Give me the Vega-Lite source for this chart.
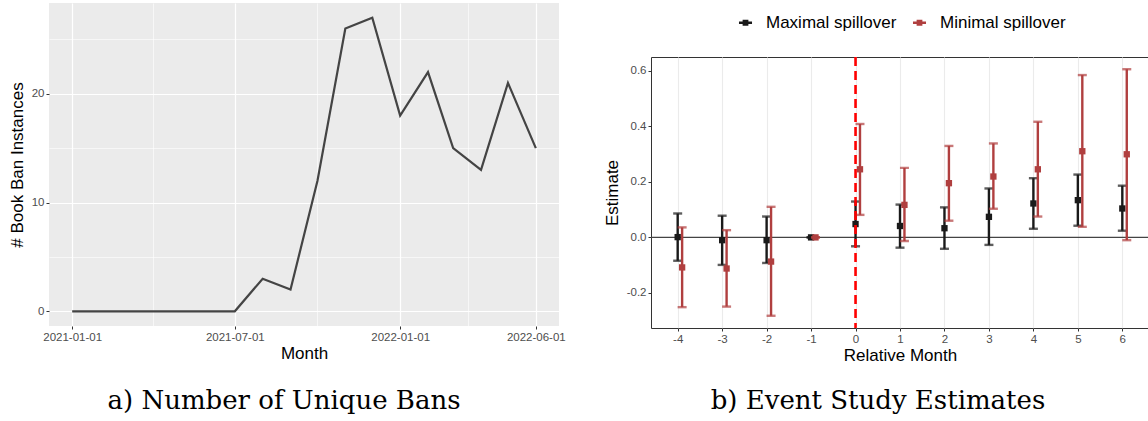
{
  "$schema": "https://vega.github.io/schema/vega-lite/v6.json",
  "background": "white",
  "padding": {"left": 8, "top": 3, "right": 0, "bottom": 0},
  "spacing": 36,
  "resolve": {"scale": {"color": "independent"}, "legend": {"color": "independent"}},
  "config": {
    "font": "Liberation Sans",
    "locale": {"number": {"decimal": ".", "thousands": ",", "grouping": [3], "currency": ["$", ""], "minus": "-"}},
    "axis": {
      "labelFont": "Liberation Sans", "labelFontSize": 11.5, "labelColor": "#4D4D4D",
      "titleFont": "Liberation Sans", "titleFontSize": 17, "titleFontWeight": "normal", "titleColor": "black",
      "tickColor": "#333333", "tickSize": 3, "tickWidth": 1, "labelPadding": 2,
      "domain": false, "labelOverlap": false, "labelFlush": false
    }
  },
  "hconcat": [
    {
      "width": 510, "height": 323,
      "view": {"fill": "#EBEBEB", "stroke": null},
      "title": {"text": "a) Number of Unique Bans", "orient": "bottom", "font": "DejaVu Serif", "fontSize": 26, "fontWeight": "normal", "color": "black", "offset": 26, "dx": -20},
      "data": {"values": [
        {"month": "2021-01-01", "bans": 0},
        {"month": "2021-02-01", "bans": 0},
        {"month": "2021-03-01", "bans": 0},
        {"month": "2021-04-01", "bans": 0},
        {"month": "2021-05-01", "bans": 0},
        {"month": "2021-06-01", "bans": 0},
        {"month": "2021-07-01", "bans": 0},
        {"month": "2021-08-01", "bans": 3},
        {"month": "2021-09-01", "bans": 2},
        {"month": "2021-10-01", "bans": 12},
        {"month": "2021-11-01", "bans": 26},
        {"month": "2021-12-01", "bans": 27},
        {"month": "2022-01-01", "bans": 18},
        {"month": "2022-02-01", "bans": 22},
        {"month": "2022-03-01", "bans": 15},
        {"month": "2022-04-01", "bans": 13},
        {"month": "2022-05-01", "bans": 21},
        {"month": "2022-06-01", "bans": 15}
      ]},
      "mark": {"type": "line", "color": "#444444", "strokeWidth": 2.2},
      "encoding": {
        "x": {
          "field": "month", "type": "temporal",
          "scale": {"type": "utc", "domain": [
            {"year": 2020, "month": 12, "date": 6, "hours": 5, "utc": true},
            {"year": 2022, "month": 6, "date": 26, "hours": 19, "utc": true}
          ]},
          "axis": {
            "title": "Month", "titlePadding": 3,
            "values": [
              {"year": 2021, "month": 1, "date": 1, "utc": true},
              {"year": 2021, "month": 4, "date": 1, "hours": 12, "utc": true},
              {"year": 2021, "month": 7, "date": 1, "utc": true},
              {"year": 2021, "month": 10, "date": 1, "utc": true},
              {"year": 2022, "month": 1, "date": 1, "utc": true},
              {"year": 2022, "month": 3, "date": 17, "hours": 12, "utc": true},
              {"year": 2022, "month": 6, "date": 1, "utc": true}
            ],
            "labelExpr": "indexof([2,3,9], utcmonth(datum.value)) >= 0 ? '' : utcFormat(datum.value, '%Y-%m-%d')",
            "gridColor": "white",
            "gridWidth": {"condition": {"test": "indexof([2,3,9], utcmonth(datum.value)) >= 0", "value": 0.6}, "value": 1.2},
            "tickOpacity": {"condition": {"test": "indexof([2,3,9], utcmonth(datum.value)) >= 0", "value": 0}, "value": 1}
          }
        },
        "y": {
          "field": "bans", "type": "quantitative",
          "scale": {"domain": [-1.35, 28.35], "nice": false, "zero": false},
          "axis": {
            "title": "# Book Ban Instances", "titlePadding": 5,
            "values": [0, 5, 10, 15, 20, 25],
            "labelExpr": "datum.value % 10 != 0 ? '' : datum.label",
            "gridColor": "white",
            "gridWidth": {"condition": {"test": "datum.value % 10 != 0", "value": 0.6}, "value": 1.2},
            "tickOpacity": {"condition": {"test": "datum.value % 10 != 0", "value": 0}, "value": 1}
          }
        }
      }
    },
    {
      "spacing": 12,
      "resolve": {"scale": {"color": "independent"}, "legend": {"color": "independent"}},
      "vconcat": [
        {
          "width": 498, "height": 40,
          "view": {"stroke": null, "fill": null},
          "data": {"values": [{"series": "Maximal spillover"}, {"series": "Minimal spillover"}]},
          "mark": {"type": "point", "shape": "square", "size": 0, "filled": false, "strokeWidth": 2.5},
          "encoding": {
            "color": {"field": "series", "type": "nominal",
              "scale": {"domain": ["Maximal spillover", "Minimal spillover"], "range": ["#1A1A1A", "#B03F3F"]},
              "legend": {"orient": "none", "legendX": 86, "legendY": 11, "title": null, "direction": "horizontal",
                "labelFontSize": 17, "labelColor": "black", "labelFont": "Liberation Sans",
                "symbolType": "M-1,0H1M-0.25,-0.25H0.25V0.25H-0.25Z", "symbolSize": 170, "symbolStrokeWidth": 2.5, "symbolOpacity": 1,
                "labelOffset": 12, "columnPadding": 10}
            }
          }
        },
        {
          "width": 498, "height": 271,
          "view": {"fill": "white", "stroke": "#333333", "strokeWidth": 1},
          "title": {"text": "b) Event Study Estimates", "orient": "bottom", "font": "DejaVu Serif", "fontSize": 26, "fontWeight": "normal", "color": "black", "offset": 24, "dx": -22},
          "resolve": {"axis": {"x": "independent", "y": "independent"}},
          "data": {"values": [
            {"month": -4, "series": "Maximal spillover", "estimate": 0.001, "lower": -0.084, "upper": 0.086},
            {"month": -3, "series": "Maximal spillover", "estimate": -0.010, "lower": -0.099, "upper": 0.078},
            {"month": -2, "series": "Maximal spillover", "estimate": -0.010, "lower": -0.092, "upper": 0.075},
            {"month": -1, "series": "Maximal spillover", "estimate": 0, "lower": 0, "upper": 0},
            {"month": 0, "series": "Maximal spillover", "estimate": 0.048, "lower": -0.032, "upper": 0.129},
            {"month": 1, "series": "Maximal spillover", "estimate": 0.041, "lower": -0.037, "upper": 0.118},
            {"month": 2, "series": "Maximal spillover", "estimate": 0.033, "lower": -0.041, "upper": 0.108},
            {"month": 3, "series": "Maximal spillover", "estimate": 0.074, "lower": -0.027, "upper": 0.176},
            {"month": 4, "series": "Maximal spillover", "estimate": 0.122, "lower": 0.031, "upper": 0.213},
            {"month": 5, "series": "Maximal spillover", "estimate": 0.134, "lower": 0.042, "upper": 0.226},
            {"month": 6, "series": "Maximal spillover", "estimate": 0.104, "lower": 0.024, "upper": 0.186},
            {"month": -4, "series": "Minimal spillover", "estimate": -0.108, "lower": -0.251, "upper": 0.036},
            {"month": -3, "series": "Minimal spillover", "estimate": -0.112, "lower": -0.249, "upper": 0.026},
            {"month": -2, "series": "Minimal spillover", "estimate": -0.087, "lower": -0.282, "upper": 0.110},
            {"month": -1, "series": "Minimal spillover", "estimate": 0, "lower": 0, "upper": 0},
            {"month": 0, "series": "Minimal spillover", "estimate": 0.245, "lower": 0.081, "upper": 0.408},
            {"month": 1, "series": "Minimal spillover", "estimate": 0.117, "lower": -0.013, "upper": 0.250},
            {"month": 2, "series": "Minimal spillover", "estimate": 0.195, "lower": 0.060, "upper": 0.329},
            {"month": 3, "series": "Minimal spillover", "estimate": 0.219, "lower": 0.103, "upper": 0.338},
            {"month": 4, "series": "Minimal spillover", "estimate": 0.245, "lower": 0.075, "upper": 0.416},
            {"month": 5, "series": "Minimal spillover", "estimate": 0.310, "lower": 0.038, "upper": 0.584},
            {"month": 6, "series": "Minimal spillover", "estimate": 0.299, "lower": -0.010, "upper": 0.605}
          ]},
          "layer": [
            {
              "data": {"values": [{}]},
              "mark": {"type": "rule", "color": "#444444", "strokeWidth": 1.2},
              "encoding": {"y": {"datum": 0, "type": "quantitative",
                "scale": {"domain": [-0.326, 0.649], "nice": false, "zero": false},
                "axis": {"orient": "left", "title": null, "labels": false, "ticks": false, "domain": false,
                  "values": [-0.3, -0.1, 0.1, 0.3, 0.5], "gridColor": "#EBEBEB", "gridWidth": 0.6}
              }}
            },
            {
              "transform": [{"filter": "datum.series == 'Maximal spillover'"}],
              "mark": {"type": "rule", "strokeWidth": 2.4},
              "encoding": {
                "x": {"field": "month", "type": "quantitative",
                  "scale": {"domain": [-4.6, 6.6], "nice": false, "zero": false},
                  "axis": {"orient": "bottom", "title": "Relative Month", "titlePadding": 3, "format": "d", "values": [-4, -3, -2, -1, 0, 1, 2, 3, 4, 5, 6], "gridColor": "#EBEBEB", "gridWidth": 1.1}
                },
                "y": {"field": "lower", "type": "quantitative",
                  "scale": {"domain": [-0.326, 0.649], "nice": false, "zero": false},
                  "axis": {"orient": "left", "title": "Estimate", "titlePadding": 5, "format": ".1f", "values": [-0.2, 0, 0.2, 0.4, 0.6], "gridColor": "#EBEBEB", "gridWidth": 1.1}
                },
                "y2": {"field": "upper"},
                "color": {"field": "series", "type": "nominal",
                  "scale": {"domain": ["Maximal spillover", "Minimal spillover"], "range": ["#1A1A1A", "#B03F3F"]},
                  "legend": null
                }
              }
            },
            {
              "transform": [{"filter": "datum.series == 'Maximal spillover'"}],
              "mark": {"type": "tick", "orient": "horizontal", "size": 9, "thickness": 2.4},
              "encoding": {
                "x": {"field": "month", "type": "quantitative", "axis": null},
                "y": {"field": "lower", "type": "quantitative", "axis": null},
                "color": {"field": "series", "type": "nominal", "legend": null}
              }
            },
            {
              "transform": [{"filter": "datum.series == 'Maximal spillover'"}],
              "mark": {"type": "tick", "orient": "horizontal", "size": 9, "thickness": 2.4},
              "encoding": {
                "x": {"field": "month", "type": "quantitative", "axis": null},
                "y": {"field": "upper", "type": "quantitative", "axis": null},
                "color": {"field": "series", "type": "nominal", "legend": null}
              }
            },
            {
              "transform": [{"filter": "datum.series == 'Maximal spillover'"}],
              "mark": {"type": "point", "shape": "square", "size": 40, "filled": true, "opacity": 1},
              "encoding": {
                "x": {"field": "month", "type": "quantitative", "axis": null},
                "y": {"field": "estimate", "type": "quantitative", "axis": null},
                "color": {"field": "series", "type": "nominal", "legend": null}
              }
            },
            {
              "transform": [{"filter": "datum.series == 'Minimal spillover'"}],
              "mark": {"type": "rule", "strokeWidth": 2.4, "xOffset": 4.45},
              "encoding": {
                "x": {"field": "month", "type": "quantitative", "axis": null},
                "y": {"field": "lower", "type": "quantitative", "axis": null},
                "y2": {"field": "upper"},
                "color": {"field": "series", "type": "nominal", "legend": null}
              }
            },
            {
              "transform": [{"filter": "datum.series == 'Minimal spillover'"}],
              "mark": {"type": "tick", "orient": "horizontal", "size": 9, "thickness": 2.4, "xOffset": 4.45},
              "encoding": {
                "x": {"field": "month", "type": "quantitative", "axis": null},
                "y": {"field": "lower", "type": "quantitative", "axis": null},
                "color": {"field": "series", "type": "nominal", "legend": null}
              }
            },
            {
              "transform": [{"filter": "datum.series == 'Minimal spillover'"}],
              "mark": {"type": "tick", "orient": "horizontal", "size": 9, "thickness": 2.4, "xOffset": 4.45},
              "encoding": {
                "x": {"field": "month", "type": "quantitative", "axis": null},
                "y": {"field": "upper", "type": "quantitative", "axis": null},
                "color": {"field": "series", "type": "nominal", "legend": null}
              }
            },
            {
              "transform": [{"filter": "datum.series == 'Minimal spillover'"}],
              "mark": {"type": "point", "shape": "square", "size": 40, "filled": true, "opacity": 1, "xOffset": 4.45},
              "encoding": {
                "x": {"field": "month", "type": "quantitative", "axis": null},
                "y": {"field": "estimate", "type": "quantitative", "axis": null},
                "color": {"field": "series", "type": "nominal", "legend": null}
              }
            },
            {
              "data": {"values": [{}]},
              "mark": {"type": "rule", "color": "#FF0000", "strokeWidth": 2.6, "strokeDash": [9, 5]},
              "encoding": {"x": {"datum": 0, "type": "quantitative",
                "scale": {"domain": [-4.6, 6.6], "nice": false, "zero": false},
                "axis": {"orient": "bottom", "title": null, "labels": false, "ticks": false, "domain": false,
                  "values": [-4.5, -3.5, -2.5, -1.5, -0.5, 0.5, 1.5, 2.5, 3.5, 4.5, 5.5, 6.5], "gridColor": "#EBEBEB", "gridWidth": 0.6}
              }}
            }
          ]
        }
      ]
    }
  ]
}
